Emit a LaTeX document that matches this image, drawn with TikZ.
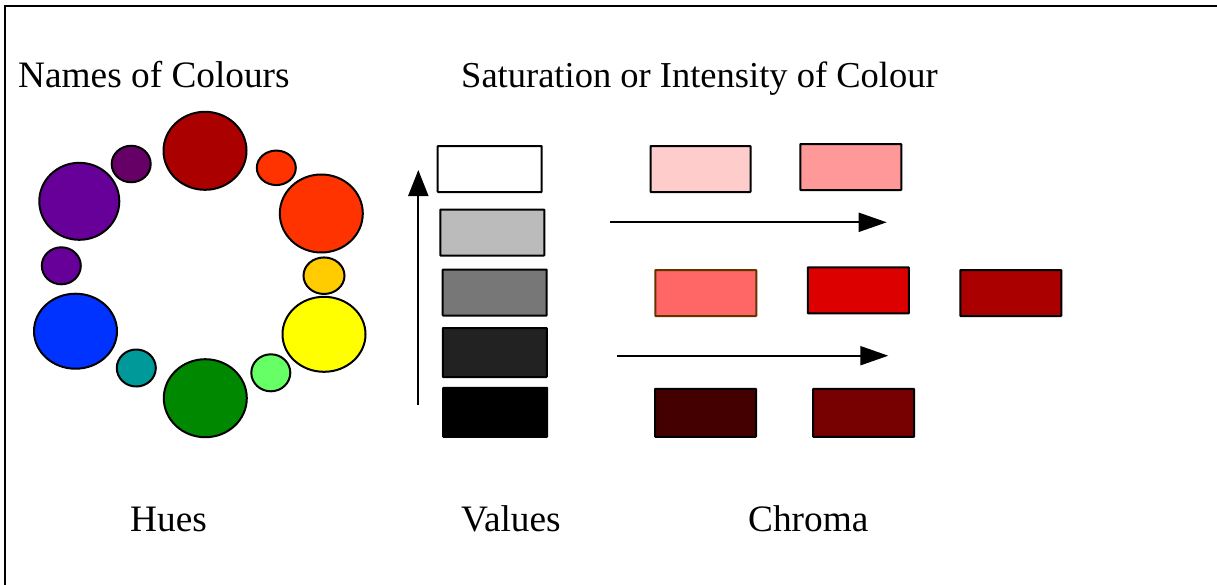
\documentclass[tikz,border=0pt]{standalone}
\usepackage{fontspec}
\setmainfont{Liberation Serif}
\usetikzlibrary{shapes.geometric,arrows.meta}
\definecolor{cDarkRed}{HTML}{AA0000}
\definecolor{cOrangeRed}{HTML}{FF3300}
\definecolor{cAmber}{HTML}{FFCC00}
\definecolor{cYellow}{HTML}{FFFF00}
\definecolor{cLightGreen}{HTML}{66FF66}
\definecolor{cGreen}{HTML}{008800}
\definecolor{cTeal}{HTML}{009999}
\definecolor{cBlue}{HTML}{0033FF}
\definecolor{cPurple}{HTML}{660099}
\definecolor{cPlum}{HTML}{660066}
\definecolor{cPink}{HTML}{FFCCCC}
\definecolor{cRose}{HTML}{FF9999}
\definecolor{cSalmon}{HTML}{FF6666}
\definecolor{cBrown}{HTML}{663300}
\definecolor{cRed}{HTML}{DD0000}
\definecolor{cMaroonA}{HTML}{440000}
\definecolor{cMaroonB}{HTML}{770000}
\definecolor{cG1}{HTML}{BBBBBB}
\definecolor{cG2}{HTML}{777777}
\definecolor{cG3}{HTML}{222222}
\begin{document}
\begin{tikzpicture}[x=1pt,y=-1pt,
  hue/.style={ellipse,draw=black,line width=2pt,inner sep=0pt},
  swatch/.style={rectangle,draw=black,line width=2pt,inner sep=0pt,rounded corners=0.5pt},
  lbl/.style={anchor=base west,inner sep=0pt,font=\fontsize{37.3}{44}\selectfont},
  arr/.style={line width=2pt,-{Triangle[length=26pt,width=20pt]}}]
\useasboundingbox (0,0) rectangle (1217,584);
% frame
\draw[line width=2.2pt] (5,590) -- (5,6) -- (1225,6);
% titles
\node[lbl] (tNames) at (18,87.5) {Names of Colours};
\node[lbl,font=\fontsize{36.5}{44}\selectfont] (tSat) at (461,87.5) {Saturation or Intensity of Colour};
\node[lbl] (tHues) at (130,531) {Hues};
\node[lbl] (tValues) at (461,531) {Values};
\node[lbl] (tChroma) at (748,531) {Chroma};
% hue wheel
\node[hue,fill=cPurple,minimum width=80pt,minimum height=77pt] (h1) at (79.3,201.3) {};
\node[hue,fill=cPlum,minimum width=39pt,minimum height=36.5pt] (h2) at (131.2,164) {};
\node[hue,fill=cDarkRed,minimum width=83pt,minimum height=78pt] (h3) at (205,150.8) {};
\node[hue,fill=cOrangeRed,minimum width=39pt,minimum height=34.5pt] (h4) at (276.3,167.8) {};
\node[hue,fill=cOrangeRed,minimum width=83pt,minimum height=78pt] (h5) at (321.3,213.5) {};
\node[hue,fill=cAmber,minimum width=41pt,minimum height=36.5pt] (h6) at (324,275.7) {};
\node[hue,fill=cYellow,minimum width=83pt,minimum height=75pt] (h7) at (324,334.3) {};
\node[hue,fill=cLightGreen,minimum width=39pt,minimum height=37pt] (h8) at (270.8,372.8) {};
\node[hue,fill=cGreen,minimum width=83pt,minimum height=78pt] (h9) at (205.3,398.2) {};
\node[hue,fill=cTeal,minimum width=39pt,minimum height=37pt] (h10) at (136.3,368) {};
\node[hue,fill=cBlue,minimum width=83pt,minimum height=75pt] (h11) at (75.5,331.2) {};
\node[hue,fill=cPurple,minimum width=39pt,minimum height=37pt] (h12) at (61.3,265.8) {};
% values
\node[swatch,fill=white,minimum width=104pt,minimum height=46pt] (v1) at (489.7,169) {};
\node[swatch,fill=cG1,minimum width=104pt,minimum height=46pt] (v2) at (492.3,232.5) {};
\node[swatch,fill=cG2,minimum width=104pt,minimum height=46pt] (v3) at (494.7,292.5) {};
\node[swatch,fill=cG3,minimum width=104pt,minimum height=49pt] (v4) at (494.8,352.5) {};
\node[swatch,fill=black,minimum width=104pt,minimum height=49pt] (v5) at (495.2,412.3) {};
\coordinate (vaS) at (418.3,405);
\coordinate (vaE) at (418.3,170);
\draw[arr] (vaS) -- (vaE);
% chroma
\node[swatch,fill=cPink,minimum width=100pt,minimum height=46pt] (c1) at (700.5,169) {};
\node[swatch,fill=cRose,minimum width=101pt,minimum height=46pt] (c2) at (850.8,167) {};
\node[swatch,fill=cSalmon,draw=cBrown,minimum width=101pt,minimum height=46pt] (c3) at (705.8,293) {};
\node[swatch,fill=cRed,minimum width=101pt,minimum height=46pt] (c4) at (858.3,290.3) {};
\node[swatch,fill=cDarkRed,minimum width=101pt,minimum height=46pt] (c5) at (1010.8,293) {};
\node[swatch,fill=cMaroonA,minimum width=101pt,minimum height=48pt] (c6) at (705.5,412.8) {};
\node[swatch,fill=cMaroonB,minimum width=101pt,minimum height=48pt] (c7) at (863.6,412.8) {};
\coordinate (caS) at (610,222.3);
\coordinate (caE) at (886.7,222.3);
\coordinate (cbS) at (616.7,355.7);
\coordinate (cbE) at (888.3,355.7);
\draw[arr,-{Triangle[length=28pt,width=19pt]}] (caS) -- (caE);
\draw[arr,-{Triangle[length=28pt,width=19pt]}] (cbS) -- (cbE);
\end{tikzpicture}
\end{document}
